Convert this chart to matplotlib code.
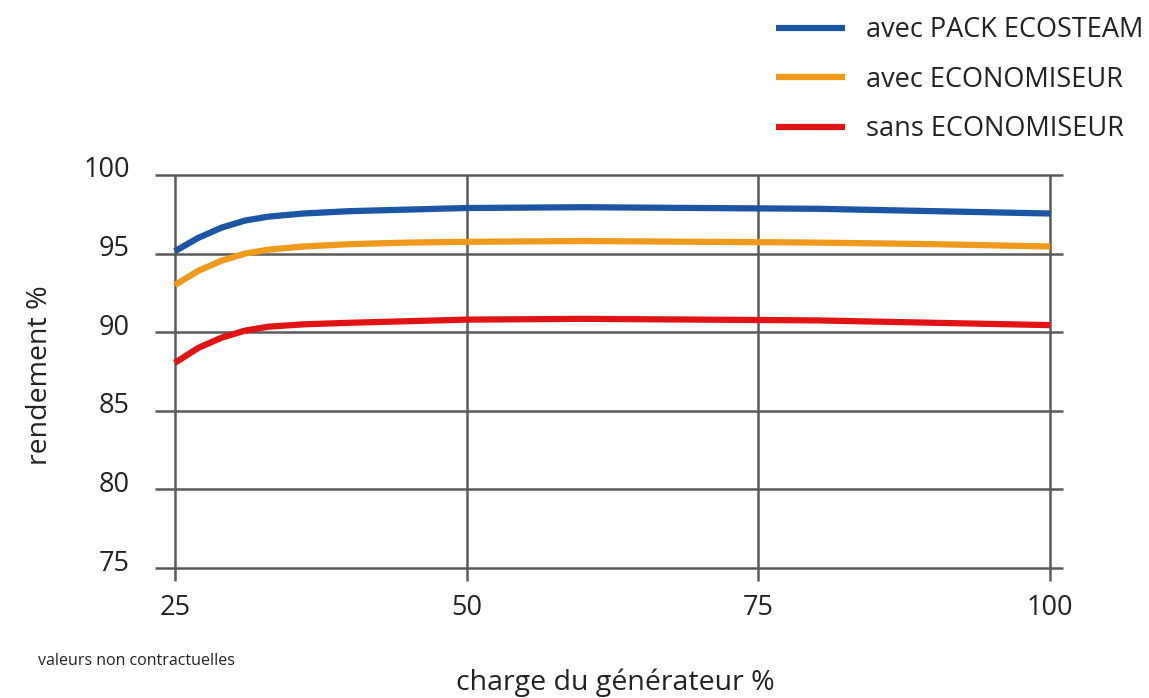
import matplotlib
matplotlib.use("Agg")
import matplotlib.pyplot as plt
import matplotlib.transforms as mtransforms

plt.rcParams['font.family'] = ['Open Sans', 'DejaVu Sans']

# charge du générateur (%)
charge = [25, 27, 29, 31, 33, 36, 40, 45, 50, 60, 70, 80, 90, 100]

pack_ecosteam = [95.15, 96.0, 96.65, 97.1, 97.35, 97.55, 97.7, 97.8, 97.9, 97.95, 97.9, 97.85, 97.7, 97.55]
avec_eco = [93.0, 93.9, 94.55, 95.0, 95.25, 95.45, 95.6, 95.7, 95.75, 95.8, 95.75, 95.7, 95.6, 95.45]
sans_eco = [88.05, 89.0, 89.65, 90.1, 90.35, 90.5, 90.6, 90.7, 90.8, 90.85, 90.8, 90.75, 90.6, 90.45]

x_ticks = [25, 50, 75, 100]
y_ticks = [75, 80, 85, 90, 95, 100]

labels = ["avec PACK ECOSTEAM", "avec ECONOMISEUR", "sans ECONOMISEUR"]
colors = ["#1b55a3", "#ef9a1d", "#e01414"]

fig = plt.figure(figsize=(11.49, 6.98), dpi=100)
ax = fig.add_axes([0.1349, 0.1682, 0.7903, 0.5811])
ax.set_xlim(23.3, 101.1)
ax.set_ylim(74.2, 100)
for s in ax.spines.values():
    s.set_visible(False)

grid_col = "#5a5a5a"
ax.hlines(y_ticks, 23.3, 101.1, color=grid_col, lw=1.8, clip_on=False, zorder=1)
ax.vlines(x_ticks, 74.2, 100, color=grid_col, lw=1.8, clip_on=False, zorder=1)

for ys, lab, col in zip([pack_ecosteam, avec_eco, sans_eco], labels, colors):
    ax.plot(charge, ys, color=col, lw=4.5, label=lab, solid_capstyle='butt', zorder=3)

ax.set_xticks(x_ticks)
ax.set_yticks(y_ticks)
ax.set_xticklabels([str(v) for v in x_ticks])
ax.set_yticklabels([str(v) for v in y_ticks])
ax.tick_params(length=0, labelsize=19.5, colors="#222222")
ax.tick_params(axis='y', pad=18)
ax.tick_params(axis='x', pad=10)
for t in ax.get_yticklabels():
    t.set_transform(t.get_transform() + mtransforms.ScaledTranslation(0, 0.08, fig.dpi_scale_trans))

leg = ax.legend(loc='upper left', bbox_to_anchor=(776 / 1149, 1 - 16 / 698),
                bbox_transform=fig.transFigure, frameon=False, fontsize=19.5,
                handlelength=2.55, handletextpad=0.78, labelspacing=0.8,
                borderaxespad=0, borderpad=0)
for t in leg.get_texts():
    t.set_color("#222222")

fig.text(40 / 1149, 1 - 375 / 698, "rendement %", rotation=90, ha='center', va='center',
         fontsize=20.5, color="#222222")
fig.text(615 / 1149, 1 - 683 / 698, "charge du générateur %", ha='center', va='center',
         fontsize=20.5, color="#222222")
fig.text(38 / 1149, 1 - 661 / 698, "valeurs non contractuelles", ha='left', va='center',
         fontsize=11.5, color="#222222")

fig.savefig("out.png", dpi=100)
